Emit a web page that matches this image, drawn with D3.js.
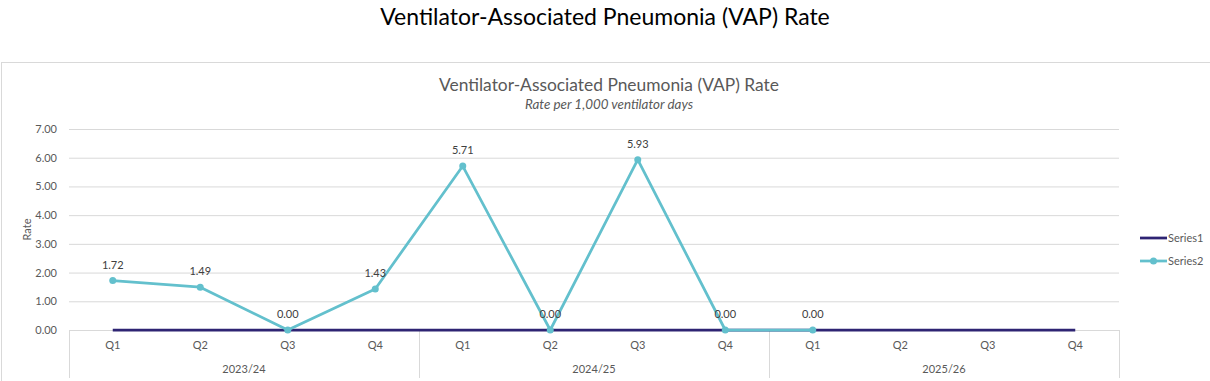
<!DOCTYPE html>
<html><head><meta charset="utf-8">
<script src="https://cdn.jsdelivr.net/npm/d3@7"></script>
<style>
body{margin:0;background:#fff;}
svg{display:block;font-family:Lato, "Open Sans", sans-serif;}
</style></head><body>
<svg id="c" width="1210" height="381"></svg>
<script>
const years = ["2023/24","2024/25","2025/26"];
const quarters = ["Q1","Q2","Q3","Q4"];
const series1 = [0,0,0,0,0,0,0,0,0,0,0,0];
const series2 = [1.72,1.49,0.00,1.43,5.71,0.00,5.93,0.00,0.00,null,null,null];
const yTicks = [0,1,2,3,4,5,6,7];
const seriesNames = ["Series1","Series2"];
const colors = ["#2E2473","#63C0CD"];

const cats = [];
years.forEach(y=>quarters.forEach(q=>cats.push(y+"|"+q)));

const svg = d3.select("#c");
const L=69, R=1119, T=129, B=330;
const x = d3.scaleBand().domain(cats).range([L,R]);
const y = d3.scaleLinear().domain([0,7]).range([B,T]);
const cx = c => x(c)+x.bandwidth()/2;

// outer title
svg.append("text").attr("x",605).attr("y",25).attr("text-anchor","middle")
  .attr("font-size",23).attr("fill","#000").text("Ventilator-Associated Pneumonia (VAP) Rate");
// chart frame
svg.append("rect").attr("x",1.5).attr("y",62.5).attr("width",1220).attr("height",340)
  .attr("fill","#fff").attr("stroke","#d9d9d9");
svg.append("text").attr("x",609).attr("y",91).attr("text-anchor","middle")
  .attr("font-size",17.4).attr("fill","#595959").text("Ventilator-Associated Pneumonia (VAP) Rate");
svg.append("text").attr("x",609).attr("y",109).attr("text-anchor","middle")
  .attr("font-size",13.4).attr("font-style","italic").attr("fill","#595959").text("Rate per 1,000 ventilator days");

// gridlines
svg.append("g").selectAll("line").data(yTicks.filter(d=>d>0)).join("line")
  .attr("x1",L).attr("x2",R).attr("y1",d=>y(d)+0.5).attr("y2",d=>y(d)+0.5)
  .attr("stroke","#d9d9d9").attr("stroke-width",1);

// y axis
const ya = svg.append("g").attr("transform",`translate(${L},0)`)
  .call(d3.axisLeft(y).tickValues(yTicks).tickFormat(d3.format(".2f")).tickSize(0).tickPadding(12));
ya.select(".domain").remove();
ya.selectAll("text").attr("font-size",11).attr("fill","#595959").attr("font-family","Lato, sans-serif");

svg.append("text").attr("transform",`translate(31,${(T+B)/2}) rotate(-90)`).attr("text-anchor","middle")
  .attr("font-size",11).attr("fill","#595959").text("Rate");

// x axis baseline
svg.append("line").attr("x1",L).attr("x2",R).attr("y1",B+0.5).attr("y2",B+0.5).attr("stroke","#d9d9d9");
// group separators
const seps = [0,4,8,12];
svg.append("g").selectAll("line").data(seps).join("line")
  .attr("x1",i=>i<12?x(cats[i]):R).attr("x2",i=>i<12?x(cats[i]):R)
  .attr("y1",B).attr("y2",378).attr("stroke","#d9d9d9")
  .attr("transform","translate(0.5,0)");
// quarter labels
const xa = svg.append("g").attr("transform",`translate(0,${B})`)
  .call(d3.axisBottom(x).tickFormat(d=>d.split("|")[1]).tickSize(0).tickPadding(11));
xa.select(".domain").remove();
xa.selectAll("text").attr("font-size",11).attr("fill","#595959").attr("font-family","Lato, sans-serif");
// year labels
svg.append("g").selectAll("text").data(years).join("text")
  .attr("x",(d,i)=>(x(cats[i*4])+x(cats[i*4+3])+x.bandwidth())/2)
  .attr("y",373).attr("text-anchor","middle").attr("font-size",11).attr("fill","#595959").text(d=>d);

// series1
const line = d3.line().defined(d=>d.v!=null).x(d=>cx(d.c)).y(d=>y(d.v));
const s1 = cats.map((c,i)=>({c,v:series1[i]}));
const s2 = cats.map((c,i)=>({c,v:series2[i]}));
svg.append("path").datum(s1).attr("d",line).attr("fill","none").attr("stroke",colors[0]).attr("stroke-width",2.75);
svg.append("path").datum(s2).attr("d",line).attr("fill","none").attr("stroke",colors[1]).attr("stroke-width",2.75).attr("stroke-linejoin","round");
svg.append("g").selectAll("circle").data(s2.filter(d=>d.v!=null)).join("circle")
  .attr("cx",d=>cx(d.c)).attr("cy",d=>y(d.v)).attr("r",3.5).attr("fill",colors[1]);
svg.append("g").selectAll("text").data(s2.filter(d=>d.v!=null)).join("text")
  .attr("x",d=>cx(d.c)).attr("y",d=>y(d.v)-12).attr("text-anchor","middle")
  .attr("font-size",11).attr("fill","#404040").text(d=>d3.format(".2f")(d.v));

// legend
const lg = svg.append("g");
seriesNames.forEach((n,i)=>{
  const ly = 238 + i*23;
  lg.append("line").attr("x1",1140).attr("x2",1167).attr("y1",ly).attr("y2",ly).attr("stroke",colors[i]).attr("stroke-width",2.75);
  if(i===1) lg.append("circle").attr("cx",1153.5).attr("cy",ly).attr("r",3.5).attr("fill",colors[i]);
  lg.append("text").attr("x",1168).attr("y",ly+4).attr("font-size",11).attr("fill","#595959").text(n);
});
</script></body></html>
